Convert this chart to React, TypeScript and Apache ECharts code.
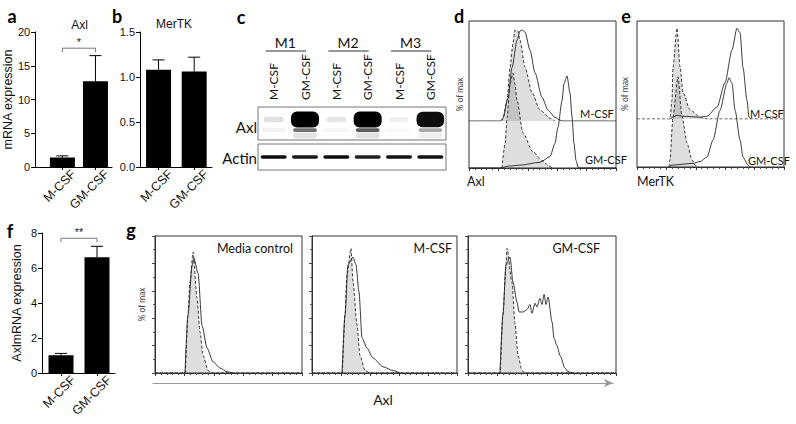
import React, { useEffect, useRef } from 'react';
import * as echarts from 'echarts';

// ---------------- data ----------------
const conditions = ['M-CSF', 'GM-CSF'];
// panel a: Axl mRNA
const axlMean = [1.4, 12.7];
const axlErr = [0.25, 3.8];
const axlSig = [1, 2, 17.6];
// panel b: MerTK mRNA
const mertkMean = [1.08, 1.06];
const mertkErr = [0.11, 0.16];
// panel f: Axl mRNA (monocytes)
const axlFMean = [1.02, 6.62];
const axlFErr = [0.1, 0.62];
const axlFSig = [1, 2, 7.7];
const sigMarks = ['*', '**'];

// panel c: western blot
const lanes = ['M-CSF', 'GM-CSF', 'M-CSF', 'GM-CSF', 'M-CSF', 'GM-CSF'];
const donors = ['M1', 'M2', 'M3'];
const axlBand = [0.12, 1, 0.1, 1, 0.06, 0.95];
const axlLowBand = [0.06, 0.75, 0.04, 0.85, 0.03, 0.45];
const actinBand = [0.95, 0.9, 0.95, 0.88, 0.92, 0.92];

// panel d: Axl flow histograms [channel, % of max]
const dMcsfIso = [[22.4, 0], [23.1, 3], [25.9, 23], [27.9, 59], [29.9, 85], [31.3, 100], [33.3, 99], [34.7, 89], [38.1, 59], [42.9, 31], [48.3, 12], [55.1, 3], [58.5, 0]];
const dMcsfAxl = [[0, 0], [21.1, 0], [23.1, 3], [26.5, 25], [29.3, 59], [32.7, 89], [34.7, 99], [36.1, 100], [38.1, 98], [41.5, 78], [44.9, 53], [49.7, 26], [53.7, 12], [58.5, 4], [61.9, 1], [64, 0], [100, 0]];
const dGmIso = [[22.4, 0], [24.5, 25], [25.9, 53], [27.9, 89], [29.9, 100], [31.3, 88], [32.7, 71], [36.7, 37], [43.5, 17], [49.7, 8], [53.7, 3], [56.5, 0]];
const dGmAxl = [[0, 0], [21.1, 0], [27, 2], [34.7, 3], [48.3, 6], [55.1, 12], [58.5, 26], [60.5, 43], [63.3, 71], [64.6, 89], [66.7, 97], [68.7, 79], [70.1, 54], [71.4, 26], [72.8, 8], [74.1, 1], [76, 0], [100, 0]];

// panel e: MerTK flow histograms
const eMcsfIso = [[0, 0], [22.4, 0], [23.8, 21], [24.5, 57], [27.2, 100], [29.3, 57], [31.3, 29], [36.1, 10], [42.9, 2], [47.6, 0], [100, 0]];
const eMcsfMertk = [[22.4, 0], [24.5, 2], [27.2, 4], [31.3, 3], [42.9, 2], [47.6, 3], [54.4, 13], [59.9, 40], [64.6, 76], [68.0, 100], [70.1, 95], [72.1, 57], [74.8, 21], [76.2, 2], [77.6, 0]];
const eGmIso = [[21.8, 0], [22.4, 8], [24.5, 56], [27.9, 100], [30.6, 56], [34.0, 27], [37.4, 8], [39.5, 2], [42, 0]];
const eGmMertk = [[22.4, 0], [23, 2], [38.1, 4], [42.9, 6], [47.6, 11], [51.7, 30], [56.5, 63], [61.2, 93], [62.6, 99], [64.6, 93], [66.7, 63], [70.1, 30], [72.1, 11], [75.5, 2], [77, 0]];

// panel g: Axl flow histograms after stimulation
const gTitles = ['Media control', 'M-CSF', 'GM-CSF'];
const gMediaIso = [[0, 0], [20.4, 0], [22.4, 46], [23.8, 73], [25.9, 97], [28.6, 60], [30.6, 33], [32.7, 14], [36.1, 2], [38.8, 0], [100, 0]];
const gMediaAxl = [[20.4, 0], [22.4, 46], [25.2, 86], [26.5, 92], [29.3, 80], [32.0, 38], [35.4, 20], [39.5, 9], [44.2, 4], [49.0, 1], [53.1, 0]];
const gMcsfIso = [[0, 0], [20.7, 0], [22.8, 47], [24.1, 79], [26.9, 100], [28.3, 73], [31.0, 39], [33.1, 14], [36.6, 2], [40.0, 0], [100, 0]];
const gMcsfAxl = [[20.7, 0], [22.8, 47], [24.8, 87], [28.3, 93], [30.3, 87], [32.4, 65], [34.5, 28], [37.9, 20], [42.1, 12], [49.0, 5], [55.9, 2], [60.7, 0]];
const gGmIso = [[0, 0], [21.6, 0], [23.6, 47], [25.7, 87], [26.4, 100], [29.7, 73], [31.8, 39], [33.8, 14], [36.5, 2], [38.5, 0], [100, 0]];
const gGmAxl = [[21.6, 0], [23.6, 47], [25.7, 87], [28.4, 93], [30.4, 73], [33.1, 57], [34.5, 49], [37.2, 49], [39.9, 51], [41.9, 55], [43.2, 48], [45.3, 56], [46.6, 53], [48.6, 60], [50.0, 55], [51.4, 63], [52.7, 55], [54.1, 61], [56.8, 41], [58.1, 28], [60.1, 22], [62.2, 14], [65.5, 4], [67.6, 1], [70.9, 0]];

// ---------------- styling helpers ----------------
const SANS = '"Liberation Sans", Arial, sans-serif';
const LATO = 'Lato, "Open Sans", sans-serif';
const LABEL_SHIFT = 0.34;

function txt(text: string, x: number, y: number, size: number, family: string, align = 'center', weight = 'normal', fill = '#111') {
  return {
    type: 'text',
    silent: true,
    style: {
      text, x, y, fill,
      fontSize: size, fontFamily: family, fontWeight: weight,
      align, textAlign: align, verticalAlign: 'middle', textVerticalAlign: 'middle',
    },
  };
}

function barAxes(gi: number, xMin: number, xMax: number, yMax: number, yInt: number, name: string, nameGap: number, fmt?: (v: number) => string) {
  const xAxis = {
    type: 'value', gridIndex: gi, min: xMin, max: xMax,
    axisLine: { show: true, onZero: false, lineStyle: { color: '#000', width: 1 } },
    axisTick: { show: true, customValues: conditions.map((_, i) => i + 1), length: 3, lineStyle: { color: '#000' } },
    axisLabel: {
      show: true, customValues: conditions.map((_, i) => i + 1 + LABEL_SHIFT),
      formatter: (v: number) => conditions[Math.round(v - 1 - LABEL_SHIFT)] ?? '',
      rotate: 45, margin: 5, fontSize: 12.5, fontFamily: SANS, color: '#111',
    },
    splitLine: { show: false },
  };
  const yAxis: any = {
    type: 'value', gridIndex: gi, min: 0, max: yMax, interval: yInt,
    axisLine: { show: true, lineStyle: { color: '#000', width: 1 } },
    axisTick: { show: true, length: 4, lineStyle: { color: '#000' } },
    axisLabel: { fontSize: 11, fontFamily: SANS, color: '#111', margin: 5, formatter: fmt },
    splitLine: { show: false },
    name, nameLocation: 'middle', nameGap,
    nameTextStyle: { fontSize: 12.5, fontFamily: SANS, color: '#111' },
  };
  return { xAxis, yAxis };
}

function barSeries(gi: number, mean: number[], err: number[]) {
  return [
    {
      type: 'bar', xAxisIndex: gi, yAxisIndex: gi, silent: true,
      data: mean.map((v, i) => [i + 1, v]), barWidth: 25, itemStyle: { color: '#000' },
    },
    {
      type: 'custom', xAxisIndex: gi, yAxisIndex: gi, silent: true,
      data: mean.map((v, i) => [i + 1, v, err[i]]),
      renderItem: (_p: any, api: any) => {
        const x = api.value(0), m = api.value(1), e = api.value(2);
        const top = api.coord([x, m + e]);
        const base = api.coord([x, m]);
        return {
          type: 'group', children: [
            { type: 'line', shape: { x1: top[0], y1: base[1], x2: top[0], y2: top[1] }, style: { stroke: '#000', lineWidth: 1 } },
            { type: 'line', shape: { x1: top[0] - 6, y1: top[1], x2: top[0] + 6, y2: top[1] }, style: { stroke: '#000', lineWidth: 1 } },
          ],
        };
      },
    },
  ];
}

function sigSeries(gi: number, sig: number[], mark: string) {
  return {
    type: 'custom', xAxisIndex: gi, yAxisIndex: gi, silent: true,
    data: [[sig[0], sig[2], sig[1]]],
    renderItem: (_p: any, api: any) => {
      const p1 = api.coord([api.value(0), api.value(1)]);
      const p2 = api.coord([api.value(2), api.value(1)]);
      return {
        type: 'group', children: [
          { type: 'polyline', shape: { points: [[p1[0], p1[1] + 4], [p1[0], p1[1]], [p2[0], p2[1]], [p2[0], p2[1] + 4]] }, style: { stroke: '#555', lineWidth: 0.8, fill: 'none' } },
          { type: 'text', style: { text: mark, x: (p1[0] + p2[0]) / 2, y: p1[1] - 1, align: 'center', verticalAlign: 'bottom', fontSize: 11, fontFamily: SANS, fill: '#222' } },
        ],
      };
    },
  };
}

function hist(axis: number, data: number[][], dashed: boolean, filled: boolean) {
  return {
    type: 'line', xAxisIndex: axis, yAxisIndex: axis, data, silent: true,
    symbol: 'none', smooth: 0.25, smoothMonotone: 'x',
    lineStyle: { color: '#222', width: 0.9, type: dashed ? [3, 2] : 'solid' },
    areaStyle: filled ? { color: 'rgba(70,70,70,0.26)', origin: 0 } : undefined,
  };
}

function flowAxes(gi: number, yMax: number, visible: boolean, ticksLeft: boolean, name?: string, nameGap = 6) {
  const xAxis: any = {
    type: 'value', gridIndex: gi, min: 0, max: 100, interval: 20, show: visible,
    axisLine: { show: true, lineStyle: { color: '#333', width: 1 } },
    axisTick: { show: true, length: 3, lineStyle: { color: '#333' } },
    minorTick: { show: true, splitNumber: 5, length: 2, lineStyle: { color: '#444' } },
    axisLabel: { show: false }, splitLine: { show: false },
  };
  const yAxis: any = {
    type: 'value', gridIndex: gi, min: 0, max: yMax, show: visible,
    axisLine: { show: ticksLeft, lineStyle: { color: '#333' } },
    axisTick: { show: ticksLeft, length: 3, lineStyle: { color: '#444' } },
    minorTick: { show: ticksLeft, splitNumber: 2, length: 2, lineStyle: { color: '#555' } },
    axisLabel: { show: false }, splitLine: { show: false },
  };
  if (ticksLeft) yAxis.interval = yMax / 5;
  if (name) {
    yAxis.name = name; yAxis.nameLocation = 'middle'; yAxis.nameGap = nameGap;
    yAxis.nameTextStyle = { fontSize: 8.5, fontFamily: LATO, color: '#444' };
  }
  return { xAxis, yAxis };
}

function buildOption() {
  const grids = [
    { left: 33, top: 32, width: 79, height: 135 },        // 0 a
    { left: 140, top: 32, width: 72, height: 135 },       // 1 b
    { left: 42, top: 233, width: 73, height: 140 },       // 2 f
    { left: 258, top: 107, width: 188, height: 33, show: true, borderColor: '#777', borderWidth: 1 }, // 3 blot Axl
    { left: 258, top: 144, width: 188, height: 26, show: true, borderColor: '#777', borderWidth: 1 }, // 4 blot actin
    { left: 469, top: 21, width: 147, height: 147, show: true, borderColor: '#333', borderWidth: 1 }, // 5 d lower
    { left: 469, top: 21, width: 147, height: 100 },      // 6 d upper
    { left: 637, top: 21, width: 147, height: 146, show: true, borderColor: '#333', borderWidth: 1 }, // 7 e lower
    { left: 637, top: 21, width: 147, height: 98 },       // 8 e upper
    { left: 155, top: 236, width: 147, height: 137, show: true, borderColor: '#333', borderWidth: 1 }, // 9 g1
    { left: 312, top: 236, width: 145, height: 137, show: true, borderColor: '#333', borderWidth: 1 }, // 10 g2
    { left: 468, top: 236, width: 148, height: 137, show: true, borderColor: '#333', borderWidth: 1 }, // 11 g3
    { left: 153, top: 373, width: 460, height: 10 },      // 12 g arrow axis
  ];

  const a = barAxes(0, 0.176, 2.5, 20, 5, 'mRNA expression', 11);
  const b = barAxes(1, 0.479, 2.5, 1.5, 0.5, '', 10, (v: number) => v.toFixed(1));
  const f = barAxes(2, 0.472, 2.5, 8, 2, 'AxlmRNA expression', 19);

  const blotX = {
    type: 'category', gridIndex: 3, data: lanes, position: 'top', boundaryGap: true,
    axisLine: { show: false }, axisTick: { show: false },
    axisLabel: { rotate: 90, interval: 0, margin: 7, fontSize: 12, fontFamily: LATO, color: '#111' },
  };
  const blotY = { type: 'value', gridIndex: 3, min: 0, max: 1, show: false };
  const actinX = { type: 'category', gridIndex: 4, data: lanes, show: false };
  const actinY = { type: 'value', gridIndex: 4, min: 0, max: 1, show: false };

  const dL = flowAxes(5, 155, true, false, '% of max', 5);
  const dU = flowAxes(6, 110, false, false);
  const eL = flowAxes(7, 162, true, false, '% of max', 8);
  const eU = flowAxes(8, 108, false, false);
  const g1 = flowAxes(9, 110, true, true, '% of max', 9);
  const g2 = flowAxes(10, 110, true, true);
  const g3 = flowAxes(11, 110, true, true);

  const arrowX = {
    type: 'value', gridIndex: 12, min: 0, max: 1,
    axisLine: { show: true, symbol: ['none', 'arrow'], symbolSize: [6, 9], lineStyle: { color: '#999', width: 1.2 } },
    axisTick: { show: false }, axisLabel: { show: false }, splitLine: { show: false },
    name: 'Axl', nameLocation: 'middle', nameGap: 9,
    nameTextStyle: { fontSize: 14, fontFamily: LATO, color: '#111' },
  };
  const arrowY = { type: 'value', gridIndex: 12, show: false };

  const series: any[] = [
    ...barSeries(0, axlMean, axlErr),
    sigSeries(0, axlSig, sigMarks[0]),
    ...barSeries(1, mertkMean, mertkErr),
    ...barSeries(2, axlFMean, axlFErr),
    sigSeries(2, axlFSig, sigMarks[1]),
    // blot: Axl main band
    {
      type: 'custom', xAxisIndex: 3, yAxisIndex: 3, silent: true,
      data: axlBand.map((v, i) => [i, v]),
      renderItem: (_p: any, api: any) => {
        const v = api.value(1);
        const c = api.coord([api.value(0), 0.62]);
        const w = 19 + 9 * v, h = 4 + 12 * v;
        return { type: 'rect', shape: { x: c[0] - w / 2, y: c[1] - h / 2, width: w, height: h, r: Math.min(h / 2, 6) }, style: { fill: `rgba(0,0,0,${v})` } };
      },
    },
    // blot: Axl lower band + smear
    {
      type: 'custom', xAxisIndex: 3, yAxisIndex: 3, silent: true,
      data: axlLowBand.map((v, i) => [i, v]),
      renderItem: (_p: any, api: any) => {
        const v = api.value(1);
        const c = api.coord([api.value(0), 0.3]);
        const s = api.coord([api.value(0), 0.14]);
        return {
          type: 'group', children: [
            { type: 'rect', shape: { x: c[0] - 12, y: c[1] - 1.8, width: 24, height: 3.6, r: 1.8 }, style: { fill: `rgba(0,0,0,${0.75 * v})` } },
            { type: 'rect', shape: { x: s[0] - 12, y: s[1] - 3, width: 24, height: 6, r: 3 }, style: { fill: `rgba(0,0,0,${0.14 * v})` } },
          ],
        };
      },
    },
    // blot: donor group labels
    {
      type: 'custom', xAxisIndex: 3, yAxisIndex: 3, silent: true,
      data: donors.map((_, k) => [2 * k, 1, 2 * k + 1]),
      renderItem: (p: any, api: any) => {
        const a0 = api.coord([api.value(0), 1]);
        const a1 = api.coord([api.value(2), 1]);
        const ly = p.coordSys.y - 56;
        return {
          type: 'group', children: [
            { type: 'line', shape: { x1: a0[0] - 8, y1: ly, x2: a1[0] + 1, y2: ly }, style: { stroke: '#333', lineWidth: 1 } },
            { type: 'text', style: { text: donors[p.dataIndex], x: (a0[0] + a1[0]) / 2 - 4, y: ly - 2, align: 'center', verticalAlign: 'bottom', fontSize: 14, fontFamily: LATO, fill: '#111' } },
          ],
        };
      },
    },
    // blot: actin
    {
      type: 'custom', xAxisIndex: 4, yAxisIndex: 4, silent: true,
      data: actinBand.map((v, i) => [i, v]),
      renderItem: (_p: any, api: any) => {
        const v = api.value(1);
        const c = api.coord([api.value(0), 0.5]);
        return { type: 'rect', shape: { x: c[0] - 13, y: c[1] - 1.8, width: 26, height: 3.6, r: 1.8 }, style: { fill: `rgba(0,0,0,${v})` } };
      },
    },
    // d
    hist(5, dGmIso, true, true),
    hist(6, dMcsfIso, true, true),
    hist(5, dGmAxl, false, false),
    hist(6, dMcsfAxl, false, false),
    // e
    hist(7, eGmIso, true, true),
    hist(8, eMcsfIso, true, true),
    hist(7, eGmMertk, false, false),
    hist(8, eMcsfMertk, false, false),
    // g
    hist(9, gMediaIso, true, true),
    hist(9, gMediaAxl, false, false),
    hist(10, gMcsfIso, true, true),
    hist(10, gMcsfAxl, false, false),
    hist(11, gGmIso, true, true),
    hist(11, gGmAxl, false, false),
  ];

  const graphics = [
    txt('a', 12, 16, 18, LATO, 'center', 'bold', '#000'),
    txt('b', 117, 16, 18, LATO, 'center', 'bold', '#000'),
    txt('c', 241, 17, 18, LATO, 'center', 'bold', '#000'),
    txt('d', 459, 16, 18, LATO, 'center', 'bold', '#000'),
    txt('e', 626, 16, 18, LATO, 'center', 'bold', '#000'),
    txt('f', 10, 231, 18, LATO, 'center', 'bold', '#000'),
    txt('g', 131, 230, 18, LATO, 'center', 'bold', '#000'),
    txt('Axl', 79.5, 25, 12, SANS),
    txt('MerTK', 174, 24, 12, SANS),
    txt('Axl', 257, 127, 15, LATO, 'right'),
    txt('Actin', 257, 158, 15, LATO, 'right'),
    txt('M-CSF', 580, 113, 11, LATO, 'left'),
    txt('GM-CSF', 585, 159, 11, LATO, 'left'),
    txt('Axl', 467, 181, 12.5, LATO, 'left'),
    txt('M-CSF', 750, 113, 11, LATO, 'left'),
    txt('GM-CSF', 748, 160, 11, LATO, 'left'),
    txt('MerTK', 637, 181, 12.5, LATO, 'left'),
    txt(gTitles[0], 293, 248, 12.5, LATO, 'right'),
    txt(gTitles[1], 452, 248, 12.5, LATO, 'right'),
    txt(gTitles[2], 600, 248, 12.5, LATO, 'right'),
  ];

  return {
    animation: false,
    backgroundColor: '#fff',
    grid: grids,
    xAxis: [a.xAxis, b.xAxis, f.xAxis, blotX, actinX, dL.xAxis, dU.xAxis, eL.xAxis, eU.xAxis, g1.xAxis, g2.xAxis, g3.xAxis, arrowX],
    yAxis: [a.yAxis, b.yAxis, f.yAxis, blotY, actinY, dL.yAxis, dU.yAxis, eL.yAxis, eU.yAxis, g1.yAxis, g2.yAxis, g3.yAxis, arrowY],
    series,
    graphic: { elements: graphics },
  };
}

export default function App() {
  const ref = useRef<HTMLDivElement>(null);
  useEffect(() => {
    if (!ref.current) return;
    const chart = echarts.init(ref.current, null, { renderer: 'svg' });
    chart.setOption(buildOption() as any);
    return () => chart.dispose();
  }, []);
  return <div ref={ref} style={{ position: 'absolute', left: 0, top: 0, width: 796, height: 424 }} />;
}
